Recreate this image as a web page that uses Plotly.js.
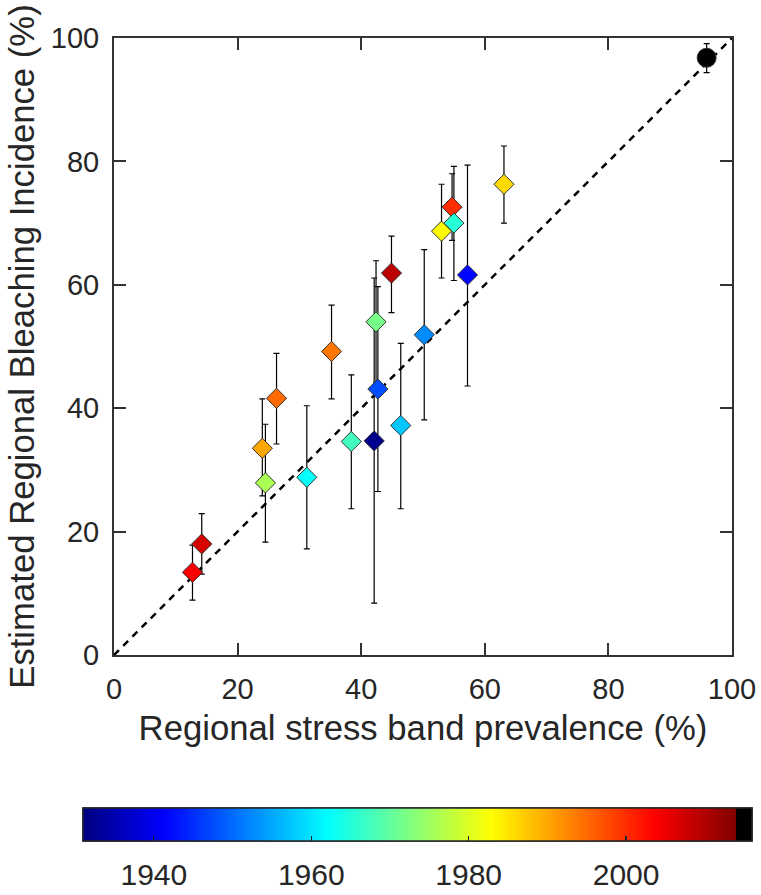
<!DOCTYPE html>
<html>
<head>
<meta charset="utf-8">
<script src="https://cdn.plot.ly/plotly-3.0.1.min.js"></script>
<style>html,body{margin:0;padding:0;background:#fff;}#chart{width:761px;height:895px;}</style>
</head>
<body>
<div id="chart"></div>
<script>
// Regional stress band prevalence (%)
var prevalence = [12.7, 14.2, 24.0, 24.5, 26.3, 31.2, 35.2, 38.4, 42.1, 42.4, 42.7, 46.4, 50.2, 44.9, 53.0, 54.7, 55.0, 57.2, 63.1, 95.9];
// Estimated regional bleaching incidence (%)
var incidence  = [13.4, 18.0, 33.5, 27.9, 41.6, 28.8, 49.2, 34.6, 34.7, 54.0, 43.1, 37.2, 51.9, 61.9, 68.7, 72.6, 70.0, 61.6, 76.3, 96.8];
var errPlus    = [4.4, 4.9, 8.0, 9.5, 7.3, 11.6, 7.5, 10.8, 26.4, 9.9, 16.6, 13.3, 13.8, 6.0, 7.6, 5.4, 9.2, 17.8, 6.2, 2.3];
var errMinus   = [4.5, 4.9, 7.7, 9.6, 7.4, 11.6, 7.7, 10.9, 26.3, 9.9, 16.6, 13.5, 13.8, 6.4, 7.6, 5.4, 9.3, 18.0, 6.3, 2.4];
// Year (colour)
var years      = [2004, 2007, 1990, 1976, 1995, 1962.5, 1994, 1967.5, 1932, 1971.7, 1947.6, 1957.6, 1952.7, 2009, 1983, 2000, 1965.5, 1941.8, 1986, 2015.5];
var symbols    = ['diamond','diamond','diamond','diamond','diamond','diamond','diamond','diamond','diamond','diamond','diamond','diamond','diamond','diamond','diamond','diamond','diamond','diamond','diamond','circle'];
var lineX = [0, 100];
var lineY = [0, 100];
var axisTicks = [0, 20, 40, 60, 80, 100];
var cbTicks = [1940, 1960, 1980, 2000];

var cmin = 1931, cmax = 2016;
var J = (2014 - cmin) / (cmax - cmin);
var jet = [
  [0, 'rgb(0,0,128)'], [0.125, 'rgb(0,0,255)'], [0.375, 'rgb(0,255,255)'],
  [0.625, 'rgb(255,255,0)'], [0.875, 'rgb(255,0,0)'], [1, 'rgb(128,0,0)']
];
var colorscale = jet.map(function(s){ return [s[0] * J, s[1]]; });
colorscale.push([J, 'rgb(0,0,0)']);
colorscale.push([1, 'rgb(0,0,0)']);

var sizes = symbols.map(function(s){ return s === 'circle' ? 19 : 15.5; });

var font = "'Liberation Sans', Arial, sans-serif";
var txt = '#262626';

function cbar(withLabels) {
  return {
    orientation: 'h', lenmode: 'pixels', len: 669, thickness: 33,
    x: (83 - 114) / 618, xanchor: 'left', y: (655 - 808) / 617, yanchor: 'top',
    xpad: 0, ypad: 0, outlinewidth: 1.5, outlinecolor: txt,
    tickmode: 'array', tickvals: cbTicks, ticktext: cbTicks.map(String),
    ticks: withLabels ? 'outside' : 'inside',
    ticklen: withLabels ? 8 : 5, tickwidth: 1.2,
    tickcolor: withLabels ? 'rgba(0,0,0,0)' : txt,
    showticklabels: withLabels,
    tickfont: {family: font, size: 30, color: txt}
  };
}

var traces = [
  {
    x: prevalence, y: incidence, mode: 'markers', type: 'scatter', showlegend: false, hoverinfo: 'skip',
    marker: {
      size: 1, opacity: 0, color: years, cmin: cmin, cmax: cmax,
      colorscale: colorscale, showscale: true, colorbar: cbar(true)
    }
  },
  {
    x: lineX, y: lineY, mode: 'lines', type: 'scatter', hoverinfo: 'skip',
    line: {color: '#000', width: 2.5, dash: '7px,6px'}, showlegend: false
  },
  {
    x: prevalence, y: incidence, mode: 'markers', type: 'scatter', showlegend: false,
    error_y: {type: 'data', symmetric: false, array: errPlus, arrayminus: errMinus,
              color: '#000', thickness: 1.2, width: 3},
    marker: {
      symbol: symbols, size: sizes, opacity: 1, color: years, cmin: cmin, cmax: cmax,
      colorscale: colorscale, line: {color: '#333', width: 1},
      showscale: true, colorbar: cbar(false)
    }
  }
];

var axisCommon = {
  range: [0, 100], tickmode: 'array', tickvals: axisTicks, ticks: 'inside', ticklen: 12,
  tickwidth: 2, tickcolor: '#333', showline: true, linecolor: '#333', linewidth: 2,
  mirror: 'ticks', showgrid: false, zeroline: false,
  tickfont: {family: font, size: 29, color: txt}
};

var layout = {
  width: 761, height: 895,
  margin: {l: 114, r: 29, t: 38, b: 240, autoexpand: false},
  paper_bgcolor: '#fff', plot_bgcolor: '#fff',
  font: {family: font, color: txt},
  xaxis: Object.assign({}, axisCommon, {
    title: {text: 'Regional stress band prevalence (%)', font: {family: font, size: 34.7, color: txt}, standoff: 12},
    ticklabelstandoff: 7
  }),
  yaxis: Object.assign({}, axisCommon, {
    title: {text: 'Estimated Regional Bleaching Incidence (%)', font: {family: font, size: 34.7, color: txt}, standoff: 6},
    ticklabelstandoff: 7
  })
};

Plotly.newPlot('chart', traces, layout, {staticPlot: true, displayModeBar: false});
</script>
</body>
</html>
